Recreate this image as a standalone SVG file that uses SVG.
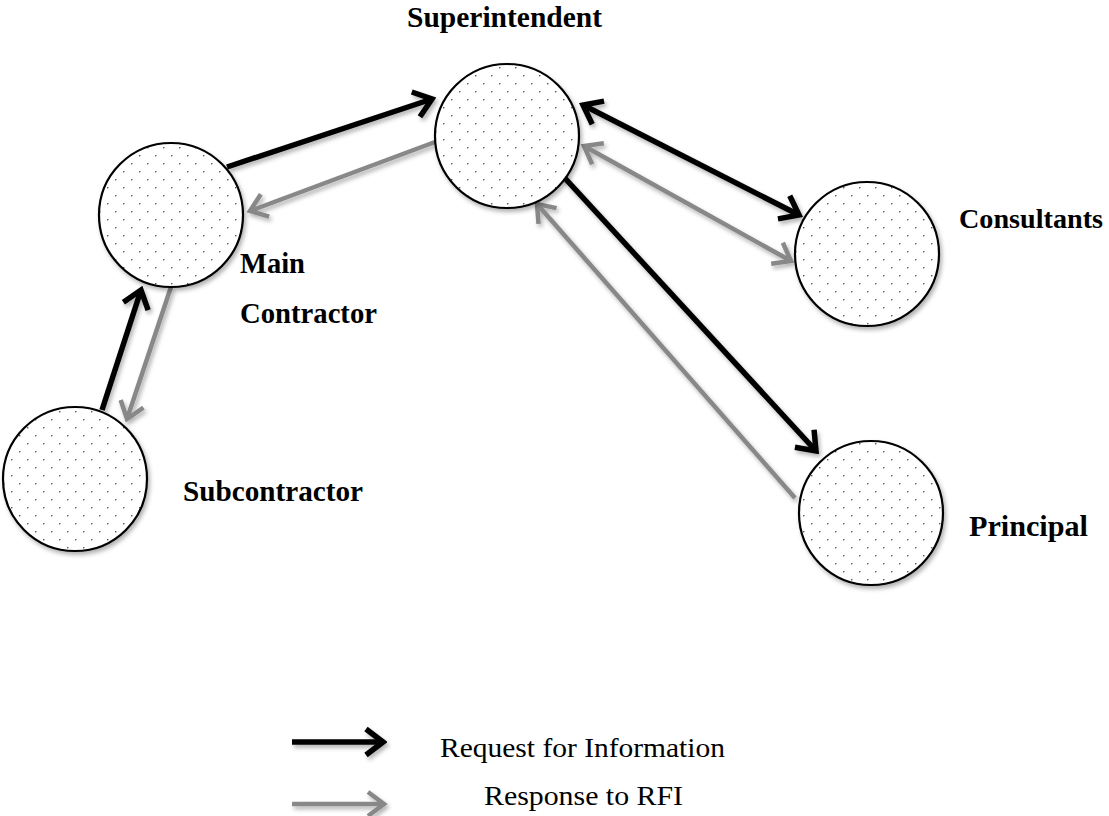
<svg xmlns="http://www.w3.org/2000/svg" width="1109" height="816" viewBox="0 0 1109 816">
  <style>
    .node { fill: url(#dots); stroke: #000; stroke-width: 2.2; filter: url(#shadow); }
    .lbl { font-family: "Liberation Serif", "Times New Roman", serif; font-weight: bold; font-size: 30px; fill: #000; }
    .leg { font-family: "Liberation Serif", "Times New Roman", serif; font-size: 28px; fill: #000; }
    .req { stroke: #000; stroke-width: 5.5; fill: none; filter: url(#shadow); }
    .res { stroke: #888; stroke-width: 4.5; fill: none; filter: url(#shadow); }
    .req.end { marker-end: url(#headBlack); }
    .res.end { marker-end: url(#headGray); }
    .req.both { marker-start: url(#headBlack); marker-end: url(#headBlack); }
    .res.both { marker-start: url(#headGray); marker-end: url(#headGray); }
  </style>
  <defs>
    <pattern id="dots" width="16" height="16" patternUnits="userSpaceOnUse">
      <rect width="16" height="16" fill="#fff"/>
      <rect x="3" y="3" width="1.4" height="1.4" fill="#555"/>
      <rect x="11" y="11" width="1.4" height="1.4" fill="#555"/>
    </pattern>
    <filter id="shadow" filterUnits="userSpaceOnUse" x="0" y="0" width="1109" height="816">
      <feDropShadow dx="2" dy="3" stdDeviation="2" flood-color="#000" flood-opacity="0.3"/>
    </filter>
    <marker id="headBlack" markerUnits="userSpaceOnUse" viewBox="-24 -18 28 36" markerWidth="28" markerHeight="36" refX="0" refY="0" orient="auto-start-reverse">
      <path d="M-17,-13 L0,0 L-17,13" fill="none" stroke="#000" stroke-width="5.5" stroke-linejoin="miter"/>
    </marker>
    <marker id="headGray" markerUnits="userSpaceOnUse" viewBox="-24 -18 28 36" markerWidth="28" markerHeight="36" refX="0" refY="0" orient="auto-start-reverse">
      <path d="M-16,-12 L0,0 L-16,12" fill="none" stroke="#888" stroke-width="4.5" stroke-linejoin="miter"/>
    </marker>
  </defs>
  <rect width="1109" height="816" fill="#fff"/>

  <g id="connectors">
    <line class="req end" x1="227" y1="167" x2="432" y2="99"/>
    <line class="res end" x1="435" y1="142" x2="250" y2="211"/>
    <line class="req both" x1="583" y1="105" x2="799" y2="215"/>
    <line class="res both" x1="584" y1="146" x2="791" y2="261"/>
    <line class="req end" x1="562" y1="175" x2="816" y2="451"/>
    <line class="res end" x1="795" y1="498" x2="537" y2="204"/>
    <line class="req end" x1="102" y1="410" x2="141" y2="290"/>
    <line class="res end" x1="171" y1="287" x2="127" y2="419"/>
  </g>

  <g id="superintendent">
    <circle class="node" cx="507" cy="136" r="72"/>
    <text class="lbl" x="407" y="27" textLength="195" lengthAdjust="spacingAndGlyphs">Superintendent</text>
  </g>
  <g id="main-contractor">
    <circle class="node" cx="171" cy="215" r="72"/>
    <text class="lbl" x="240" y="273" textLength="65" lengthAdjust="spacingAndGlyphs">Main</text>
    <text class="lbl" x="240" y="323" textLength="137" lengthAdjust="spacingAndGlyphs">Contractor</text>
  </g>
  <g id="subcontractor">
    <circle class="node" cx="75" cy="479" r="72"/>
    <text class="lbl" x="183" y="501" textLength="180" lengthAdjust="spacingAndGlyphs">Subcontractor</text>
  </g>
  <g id="consultants">
    <circle class="node" cx="867" cy="254" r="72"/>
    <text class="lbl" x="959" y="228" style="font-size:28px" textLength="144" lengthAdjust="spacingAndGlyphs">Consultants</text>
  </g>
  <g id="principal">
    <circle class="node" cx="871" cy="513" r="72"/>
    <text class="lbl" x="969" y="536" textLength="119" lengthAdjust="spacingAndGlyphs">Principal</text>
  </g>

  <g id="legend">
    <line class="req end" x1="292" y1="742" x2="383" y2="742"/>
    <text class="leg" x="440" y="757" textLength="285" lengthAdjust="spacingAndGlyphs">Request for Information</text>
    <line class="res end" x1="292" y1="804" x2="384" y2="804"/>
    <text class="leg" x="484" y="805" textLength="199" lengthAdjust="spacingAndGlyphs">Response to RFI</text>
  </g>
</svg>
